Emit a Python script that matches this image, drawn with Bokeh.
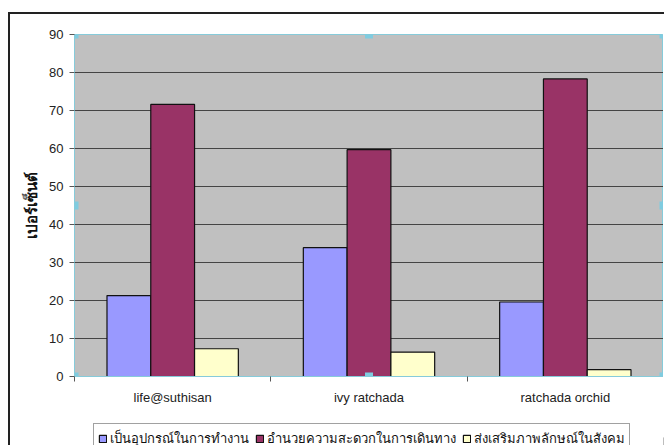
from bokeh.plotting import figure
from bokeh.models import ColumnDataSource, Range1d, FixedTicker, Legend, LegendItem
from bokeh.layouts import column
from bokeh.transform import dodge
from bokeh.embed import file_html
from bokeh.resources import INLINE

categories = ["life@suthisan", "ivy ratchada", "ratchada orchid"]
series_names = ["เป็นอุปกรณ์ในการทำงาน", "อำนวยความสะดวกในการเดินทาง", "ส่งเสริมภาพลักษณ์ในสังคม"]
work_tool = [21.3, 33.9, 19.6]
convenience = [71.6, 59.7, 78.3]
image = [7.3, 6.4, 1.8]
y_ticks = [0, 10, 20, 30, 40, 50, 60, 70, 80, 90]
y_label = "เปอร์เซ็นต์"

colors = ["#9999FF", "#993366", "#FFFFCC"]
ymax = 90
ncat = len(categories)

xpos = [i + 0.5 for i in range(ncat)]
src = ColumnDataSource(dict(x=xpos, a=work_tool, b=convenience, c=image))

p = figure(frame_width=589, frame_height=342, output_backend="svg", toolbar_location=None,
           x_range=Range1d(0, ncat), y_range=Range1d(0, ymax),
           min_border_left=64, min_border_top=20, min_border_right=0, min_border_bottom=30)
p.background_fill_color = "#C0C0C0"
p.border_fill_color = "white"
p.outline_line_color = "#86CBDA"
p.outline_line_width = 1

bw = 0.223
for col, off, c in zip(["a", "b", "c"], [-bw, 0, bw], colors):
    p.vbar(x=dodge("x", off), top=col, width=bw, source=src, fill_color=c,
           line_color="#111111", line_width=1.2)

# selection handles of the plot area (decoration)
hx = [0, ncat / 2, ncat, 0, ncat, 0, ncat / 2, ncat]
hy = [0, 0, 0, ymax / 2, ymax / 2, ymax, ymax, ymax]
p.scatter(hx, hy, marker="square", size=8, fill_color="#7FCCE0", line_color=None)

# axes
p.xaxis.ticker = FixedTicker(ticks=xpos, minor_ticks=list(range(ncat + 1)))
p.xaxis.major_label_overrides = {x: c for x, c in zip(xpos, categories)}
p.xaxis.major_tick_line_color = None
p.xaxis.minor_tick_line_color = "#555555"
p.xaxis.minor_tick_in = 0
p.xaxis.minor_tick_out = 5
p.xaxis.axis_line_color = "#86CBDA"
p.xaxis.major_label_standoff = 7
p.xaxis.major_label_text_font = "Liberation Sans"
p.xaxis.major_label_text_font_size = "13px"
p.xaxis.major_label_text_color = "#222222"

p.yaxis.ticker = FixedTicker(ticks=y_ticks)
p.yaxis.minor_tick_line_color = None
p.yaxis.major_tick_in = 0
p.yaxis.major_tick_out = 5
p.yaxis.major_tick_line_color = "#555555"
p.yaxis.axis_line_color = "#86CBDA"
p.yaxis.major_label_standoff = 6
p.yaxis.major_label_text_font = "Liberation Sans"
p.yaxis.major_label_text_font_size = "13px"
p.yaxis.major_label_text_color = "#222222"
p.yaxis.axis_label = y_label
p.yaxis.axis_label_text_font = "Liberation Sans"
p.yaxis.axis_label_text_font_size = "15px"
p.yaxis.axis_label_text_font_style = "bold"
p.yaxis.axis_label_text_color = "#111111"
p.yaxis.axis_label_standoff = 6

p.xgrid.grid_line_color = None
p.ygrid.grid_line_color = "#444444"
p.ygrid.grid_line_width = 1

# legend strip below the chart (its proxy bars lie outside the strip's range)
lg = figure(width=654, height=60, output_backend="svg", toolbar_location=None,
            x_range=Range1d(0, 1), y_range=Range1d(0, 1),
            min_border=0, x_axis_type=None, y_axis_type=None)
lg.outline_line_color = None
lg.background_fill_color = "white"
lg.border_fill_color = "white"
lg.grid.grid_line_color = None
items = []
for name, c in zip(series_names, colors):
    r = lg.vbar(x=[5], top=[0.5], width=0.1, fill_color=c, line_color="#111111", line_width=1.2)
    items.append(LegendItem(label=name, renderers=[r]))

legend = Legend(items=items, orientation="horizontal", location=(19, 13))
legend.label_text_font = "Liberation Sans"
legend.label_text_font_size = "13px"
legend.label_text_color = "#111111"
legend.glyph_width = 9
legend.glyph_height = 9
legend.label_standoff = 3
legend.spacing = 6
legend.padding = 4
legend.margin = 0
legend.border_line_color = "#444444"
legend.border_line_width = 1
legend.background_fill_color = "white"
lg.add_layout(legend)

page = column(p, lg, spacing=0)
page.margin = (12, 0, 0, 8)
page.styles = {"border-top": "2px solid #222", "border-left": "2px solid #222"}

open("out.html", "w").write(file_html(page, INLINE))
